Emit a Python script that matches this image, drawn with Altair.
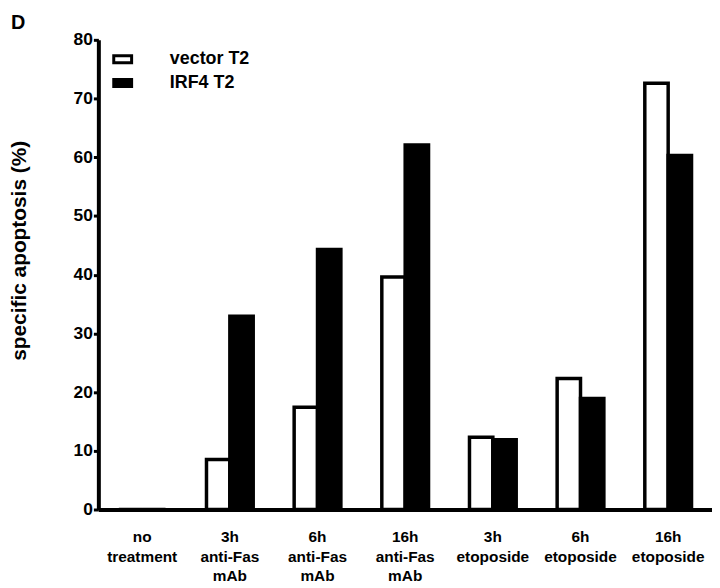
import altair as alt
import pandas as pd

panel_label = ["D"]
categories = ["no\ntreatment", "3h\nanti-Fas\nmAb", "6h\nanti-Fas\nmAb", "16h\nanti-Fas\nmAb",
              "3h\netoposide", "6h\netoposide", "16h\netoposide"]
series_names = ["vector T2", "IRF4 T2"]
vector_vals = [0, 8.5, 17.4, 39.6, 12.3, 22.3, 72.6]
irf4_vals = [0, 32.9, 44.3, 62.1, 11.9, 18.9, 60.3]
y_ticks = [0, 10, 20, 30, 40, 50, 60, 70, 80]

rows = []
for i, c in enumerate(categories):
    rows.append({"cat": c, "series": series_names[0], "value": vector_vals[i]})
    rows.append({"cat": c, "series": series_names[1], "value": irf4_vals[i]})
df = pd.DataFrame(rows)

FONT = "Liberation Sans"

bars = alt.Chart(df).mark_bar(stroke="black", strokeWidth=3.5).encode(
    x=alt.X("cat:N", sort=categories,
            scale=alt.Scale(paddingInner=0.467, paddingOuter=0.2335),
            axis=alt.Axis(title=None, labelAngle=0, ticks=False, domainColor="black",
                          domainWidth=4, labelExpr="split(datum.label, '\\n')",
                          labelFont=FONT, labelFontSize=15.5, labelFontWeight="bold",
                          labelColor="black", labelPadding=20, labelLineHeight=20)),
    xOffset=alt.XOffset("series:N", sort=series_names,
                        scale=alt.Scale(paddingInner=0, paddingOuter=0)),
    y=alt.Y("value:Q", scale=alt.Scale(domain=[0, 80], nice=False),
            axis=alt.Axis(title="specific apoptosis (%)", values=y_ticks, grid=False,
                          domainColor="black", domainWidth=4, tickColor="black",
                          tickWidth=3, tickSize=5, labelPadding=1,
                          labelFont=FONT, labelFontSize=17.5, labelFontWeight="bold",
                          labelColor="black",
                          titleFont=FONT, titleFontSize=21, titleFontWeight="bold",
                          titleColor="black", titleX=-79, titleY=212, titleAngle=270,
                          titleAlign="center", titleBaseline="middle")),
    fill=alt.Fill("series:N", sort=series_names,
                  scale=alt.Scale(domain=series_names, range=["white", "black"]),
                  legend=alt.Legend(orient="none", legendX=14, legendY=9, title=None,
                                    padding=0,
                                    symbolType="M-1,-0.39H1V0.39H-1Z", symbolSize=324,
                                    symbolStrokeColor="black", symbolStrokeWidth=3,
                                    labelFont=FONT, labelFontSize=18, labelFontWeight="bold",
                                    labelColor="black", labelOffset=37, rowPadding=3)),
)

label = alt.Chart(pd.DataFrame({"t": panel_label})).mark_text(
    font=FONT, fontSize=20, fontWeight="bold", color="black",
    align="left", baseline="alphabetic"
).encode(text="t:N", x=alt.value(-88), y=alt.value(-11))

chart = alt.layer(bars, label).properties(
    width=618, height=473,
    autosize=alt.AutoSizeParams(type="none"),
    padding={"left": 91, "top": 30, "right": 0, "bottom": 76},
).configure_view(stroke=None)

chart.save("out.html", embed_options={"renderer": "svg", "actions": False})
